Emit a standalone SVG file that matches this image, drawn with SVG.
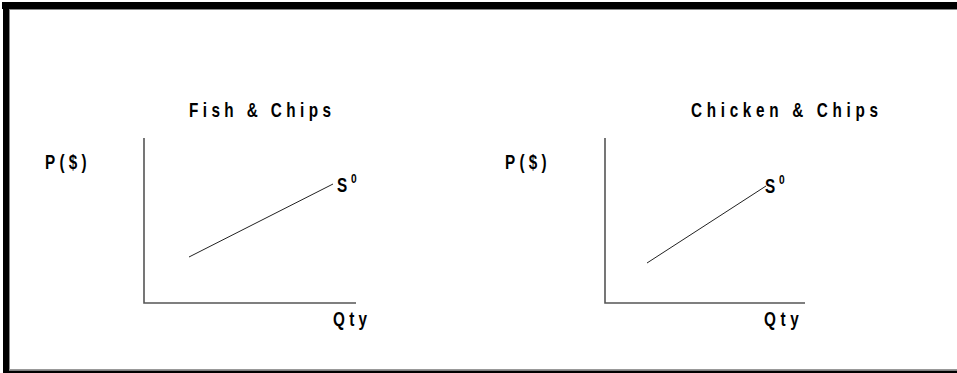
<svg xmlns="http://www.w3.org/2000/svg" width="957" height="373" viewBox="0 0 957 373">
<style>
.t{font-family:"Liberation Sans",Arial,sans-serif;font-weight:bold;fill:#000;font-size:18px;}
.sup{font-size:12px;}
.ax{stroke:#555;stroke-width:1.6;fill:none;}
.sl{stroke:#222;stroke-width:1;fill:none;}
</style>
<rect x="0" y="0" width="957" height="373" fill="#fff"/>
<g id="frame">
<rect x="2" y="2" width="955" height="7" fill="#000"/>
<line x1="9" y1="9.5" x2="957" y2="9.5" stroke="#888" stroke-width="1"/>
<rect x="3" y="2" width="6" height="371" fill="#000"/>
<line x1="9.5" y1="9" x2="9.5" y2="370" stroke="#888" stroke-width="1"/>
<rect x="3" y="370.5" width="954" height="2.5" fill="#000"/>
<line x1="9" y1="369.5" x2="957" y2="369.5" stroke="#999" stroke-width="1"/>
</g>
<g id="chart1">
<text class="t" transform="translate(189,117) scale(0.85,1.12)" textLength="167" lengthAdjust="spacing">Fish &amp; Chips</text>
<text class="t" transform="translate(45,169) scale(0.85,1.12)" textLength="49" lengthAdjust="spacing">P($)</text>
<text class="t" transform="translate(333,326) scale(0.85,1.12)" textLength="40" lengthAdjust="spacing">Qty</text>
<text class="t" transform="translate(337,192) scale(0.85,1.12)">S</text>
<text class="t sup" transform="translate(351,183) scale(0.85,1.12)">0</text>
</g>
<g id="chart2">
<text class="t" transform="translate(691,117) scale(0.85,1.12)" textLength="220" lengthAdjust="spacing">Chicken &amp; Chips</text>
<text class="t" transform="translate(505,169) scale(0.85,1.12)" textLength="49" lengthAdjust="spacing">P($)</text>
<text class="t" transform="translate(764,326) scale(0.85,1.12)" textLength="41" lengthAdjust="spacing">Qty</text>
<text class="t" transform="translate(765,193) scale(0.85,1.12)">S</text>
<text class="t sup" transform="translate(779,184) scale(0.85,1.12)">0</text>
</g>
<g id="connectors">
<polyline class="ax" points="144,138 144,303 356,303"/>
<line class="sl" x1="189" y1="257" x2="333" y2="184"/>
<polyline class="ax" points="605,138 605,303 805,303"/>
<line class="sl" x1="647" y1="263" x2="766" y2="186"/>
</g>
</svg>
